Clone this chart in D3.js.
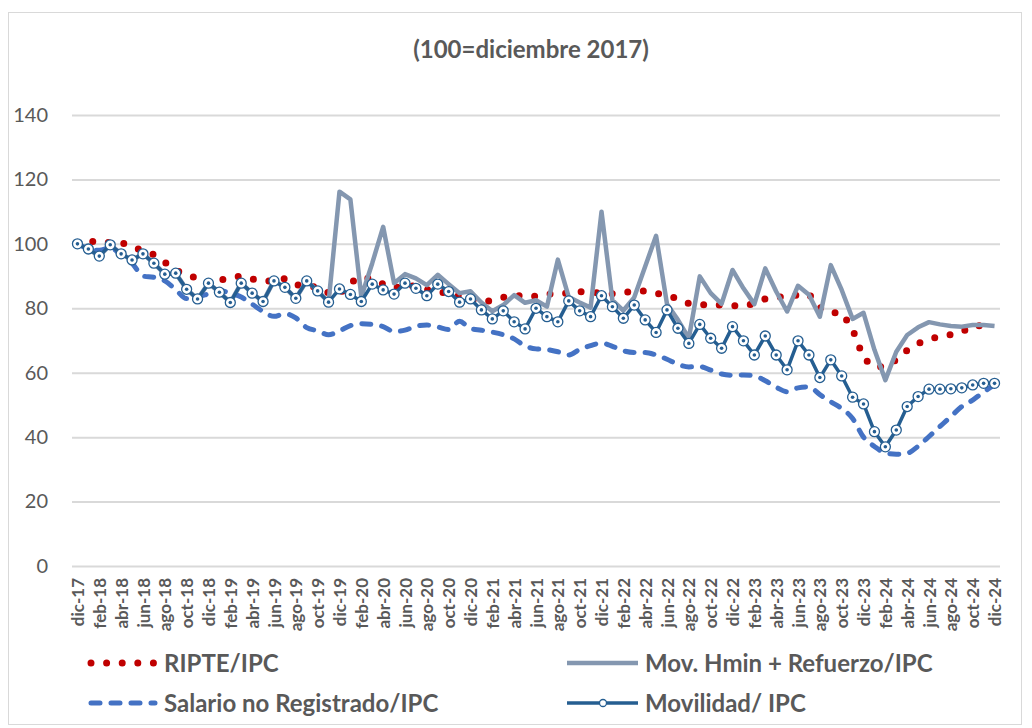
<!DOCTYPE html>
<html>
<head>
<meta charset="utf-8">
<script src="https://cdn.jsdelivr.net/npm/d3@7"></script>
<style>
	body { margin: 0; background: #fff; }
	svg { font-family: Lato, "Open Sans", sans-serif; }
</style>
</head>
<body>
<div id="viz"></div>
<script>
// meses dic-17 .. dic-24
var meses = ['ene','feb','mar','abr','may','jun','jul','ago','sep','oct','nov','dic'];
var anios = ['18','19','20','21','22','23','24'];

var ripte = [100,100.8,100.6,100.4,100.4,99.3,97.7,96.7,94.3,91.8,90.3,89.3,87.8,88.7,89.4,90.0,89.1,88.6,88.4,89.2,
	87.3,86.8,86.6,84.8,84.4,88.0,89.8,89.0,87.5,86.3,87.0,86.9,85.8,85.2,84.6,83.8,83.1,82.1,82.4,83.4,
	84.1,83.6,83.8,84.4,84.6,84.7,85.2,84.9,84.7,84.5,84.9,85.2,85.4,84.7,84.0,83.0,81.5,81.1,81.0,81.0,
	80.8,80.7,81.5,82.9,83.3,83.8,84.1,84.4,80.3,78.6,78.7,73.5,64.5,61.7,62.0,64.0,67.0,69.1,70.4,71.2,
	71.8,72.6,74.6,74.6,74.5];

var hminRefuerzo = [100,98.4,96.2,99.7,96.9,95.0,96.9,94.0,90.6,90.9,85.9,82.9,87.8,85.0,81.8,87.8,84.7,82.1,88.5,86.5,
	83.1,88.5,85.4,81.9,116.2,113.8,83.6,94.0,105.3,87.8,90.6,89.3,87.2,90.4,87.5,84.7,85.3,81.8,79.1,81.0,
	84.1,81.7,82.5,80.5,95.1,83.5,81.8,80.2,110.0,82.5,79.3,83.4,93.0,102.5,81.3,76.4,70.7,89.9,84.7,81.4,
	91.9,86.2,81.3,92.4,85.2,79.0,87.0,84.2,77.4,93.4,85.7,76.7,78.6,67.1,57.7,66.5,71.7,74.1,75.7,75.0,
	74.5,74.3,74.8,74.8,74.5];

var noRegistrado = [100,98.5,98.0,98.8,96.5,94.0,90.0,89.6,88.5,85.8,83.0,83.5,84.5,85.5,84.7,83.5,81.3,79.0,77.5,78.3,
	77.0,74.0,73.0,71.8,73.0,74.6,75.2,75.0,74.3,72.8,73.2,74.4,74.8,74.2,73.4,76.0,73.7,73.2,72.6,71.8,
	70.5,68.3,67.4,67.2,66.5,65.5,67.2,68.4,69.2,68.2,66.8,66.3,66.3,65.5,64.2,62.6,61.8,61.9,60.8,59.6,
	59.2,59.3,59.0,57.5,55.5,54.1,55.3,55.6,53.2,51.0,48.9,45.8,40.0,37.1,35.1,34.7,35.0,37.2,40.2,43.3,
	46.4,49.5,51.5,54.0,56.3];

var movilidad = [100,98.4,96.2,99.7,96.9,95.0,96.9,94.0,90.6,90.9,85.9,82.9,87.8,85.0,81.8,87.8,84.7,82.1,88.5,86.5,
	83.1,88.5,85.4,81.9,86.0,84.3,82.1,87.5,85.7,84.4,87.8,86.2,83.9,87.5,85.2,81.9,82.9,79.5,76.7,79.2,
	75.8,73.6,80.0,77.4,75.8,82.3,79.2,77.4,83.9,80.5,76.9,81.0,76.4,72.5,79.5,73.8,69.1,75.0,70.7,67.6,
	74.3,69.9,65.5,71.4,65.5,60.9,69.9,65.5,58.5,64.0,59.0,52.4,50.3,41.7,37.0,42.2,49.5,52.6,54.9,54.9,
	55.0,55.3,56.2,56.7,56.7];

var yTicks = [0,20,40,60,80,100,120,140];

var categorias = ['dic-17'];
anios.forEach(function(a){ meses.forEach(function(m){ categorias.push(m + '-' + a); }); });

var series = [
	{ name: 'RIPTE/IPC', values: ripte, color: '#C00000', type: 'dots' },
	{ name: 'Mov. Hmin + Refuerzo/IPC', values: hminRefuerzo, color: '#8497B0', type: 'solid' },
	{ name: 'Salario no Registrado/IPC', values: noRegistrado, color: '#4472C4', type: 'dash' },
	{ name: 'Movilidad/ IPC', values: movilidad, color: '#255E91', type: 'marker' }
];

buildChart();

function styleLine(sel, s){
	sel.style('fill', 'none').style('stroke', s.color);
	if (s.type == 'dots') {
		sel.style('stroke-width', 7).style('stroke-linecap', 'round').style('stroke-dasharray', '0,15.6');
	} else if (s.type == 'solid') {
		sel.style('stroke-width', 4.5).style('stroke-linejoin', 'round');
	} else if (s.type == 'dash') {
		sel.style('stroke-width', 5).style('stroke-linecap', 'round').style('stroke-dasharray', '9,11');
	} else {
		sel.style('stroke-width', 3.5).style('stroke-linejoin', 'round');
	}
	return sel;
}

function buildChart(){
	var width = 1032,
		height = 728;

	var svg = d3.select('#viz')
		.append('svg')
		.attr('width', width)
		.attr('height', height);

	// marco
	svg.append('rect')
		.attr('x', 8.5).attr('y', 12.5)
		.attr('width', 1013).attr('height', 712)
		.style('fill', '#fff')
		.style('stroke', '#d9d9d9')
		.style('stroke-width', 1);

	svg.append('text')
		.attr('x', 531).attr('y', 58)
		.attr('text-anchor', 'middle')
		.style('font-size', '24px')
		.style('font-weight', 'bold')
		.style('fill', '#595959')
		.text('(100=diciembre 2017)');

	var x = d3.scalePoint()
		.domain(categorias)
		.range([72, 1000])
		.padding(0.5);

	var y = d3.scaleLinear()
		.domain([0, 140])
		.range([566, 115]);

	// grid + eje Y
	var yAxis = svg.append('g')
		.attr('transform', 'translate(72,0)')
		.call(d3.axisLeft(y).tickValues(yTicks).tickSize(-928).tickPadding(24));
	yAxis.select('.domain').remove();
	yAxis.selectAll('.tick line').style('stroke', '#d9d9d9').style('stroke-width', 2);
	yAxis.selectAll('.tick text')
		.style('font-size', '20px')
		.style('font-family', 'Lato, sans-serif')
		.style('fill', '#595959');

	// eje X
	var xAxis = svg.append('g')
		.attr('transform', 'translate(0,566)')
		.call(d3.axisBottom(x)
			.tickValues(categorias.filter(function(d,i){ return i % 2 == 0; }))
			.tickSize(0));
	xAxis.select('.domain').remove();
	xAxis.selectAll('.tick text')
		.attr('transform', 'rotate(-90)')
		.attr('x', -12)
		.attr('y', 0)
		.attr('dy', '0.36em')
		.attr('text-anchor', 'end')
		.style('font-size', '17px')
		.style('font-weight', 'bold')
		.style('font-family', 'Lato, sans-serif')
		.style('fill', '#595959');

	// líneas
	var line = d3.line()
		.x(function(d,i){ return x(categorias[i]); })
		.y(function(d){ return y(d); });

	var smooth = d3.line()
		.x(function(d,i){ return x(categorias[i]); })
		.y(function(d){ return y(d); })
		.curve(d3.curveMonotoneX);

	var lines = svg.append('g');
	series.forEach(function(s){
		lines.append('path')
			.datum(s.values)
			.attr('d', s.type == 'dash' ? smooth : line)
			.call(styleLine, s);
	});

	// marcadores Movilidad
	var mov = series[3];
	var marks = svg.append('g');
	marks.selectAll('.mk')
		.data(mov.values)
		.enter().append('circle')
			.attr('class', 'mk')
			.attr('cx', function(d,i){ return x(categorias[i]); })
			.attr('cy', function(d){ return y(d); })
			.attr('r', 5)
			.style('fill', '#fff')
			.style('stroke', mov.color)
			.style('stroke-width', 1.3);
	marks.selectAll('.mkc')
		.data(mov.values)
		.enter().append('circle')
			.attr('class', 'mkc')
			.attr('cx', function(d,i){ return x(categorias[i]); })
			.attr('cy', function(d){ return y(d); })
			.attr('r', 1.8)
			.style('fill', mov.color);

	// leyenda
	var legPos = [[88, 663], [567, 663], [88, 703], [567, 703]];
	var legend = svg.append('g');
	series.forEach(function(s, j){
		var p = legPos[j];
		var left = s.type == 'dots' || s.type == 'dash';
		var g = legend.append('g').attr('transform', 'translate(' + p[0] + ',' + p[1] + ')');
		g.append('line')
			.attr('x1', left ? 3 : 0)
			.attr('x2', left ? 67 : 71)
			.attr('y1', 0).attr('y2', 0)
			.call(styleLine, s);
		if (s.type == 'marker') {
			g.append('circle').attr('cx', 36).attr('cy', 0).attr('r', 3.5)
				.style('fill', '#fff').style('stroke', s.color).style('stroke-width', 1.3);
		}
		g.append('text')
			.attr('x', left ? 76 : 78)
			.attr('y', 0)
			.attr('dy', '0.36em')
			.style('font-size', '24px')
			.style('font-weight', 'bold')
			.style('fill', '#595959')
			.text(s.name);
	});
}
</script>
</body>
</html>
